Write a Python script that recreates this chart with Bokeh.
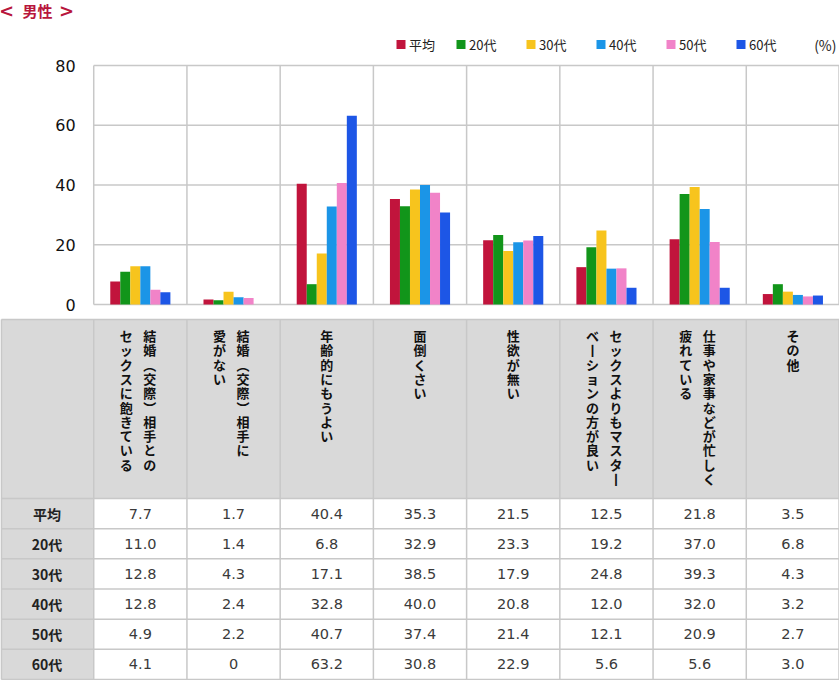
from bokeh.plotting import figure
from bokeh.models import FactorRange, Range1d, FixedTicker, LinearAxis
from bokeh.transform import dodge
from bokeh.embed import file_html
from bokeh.resources import INLINE
from bokeh.core.properties import value

# ---------------- data ----------------
title_text = "男性"
categories = [
    "結婚（交際）相手との\nセックスに飽きている",
    "結婚（交際）相手に\n愛がない",
    "年齢的にもうよい",
    "面倒くさい",
    "性欲が無い",
    "セックスよりもマスター\nベーションの方が良い",
    "仕事や家事などが忙しく\n疲れている",
    "その他",
]
series_names = ["平均", "20代", "30代", "40代", "50代", "60代"]
series_colors = ["#c1143c", "#12951a", "#f7c41d", "#1b95e7", "#f183c8", "#1d56e6"]
avg   = [7.7, 1.7, 40.4, 35.3, 21.5, 12.5, 21.8, 3.5]
age20 = [11.0, 1.4, 6.8, 32.9, 23.3, 19.2, 37.0, 6.8]
age30 = [12.8, 4.3, 17.1, 38.5, 17.9, 24.8, 39.3, 4.3]
age40 = [12.8, 2.4, 32.8, 40.0, 20.8, 12.0, 32.0, 3.2]
age50 = [4.9, 2.2, 40.7, 37.4, 21.4, 12.1, 20.9, 2.7]
age60 = [4.1, 0, 63.2, 30.8, 22.9, 5.6, 5.6, 3.0]
series_values = [avg, age20, age30, age40, age50, age60]
yticks = [0, 20, 40, 60, 80]
unit_label = "(%)"

# ---------------- layout constants (pixel space) ----------------
W, H = 839, 680
PLOT_TOP, PLOT_BOT = 65, 304          # pixel y of value 80 and value 0
TBL_TOP, HDR_BOT, TBL_BOT = 319, 498, 679
GRID = "#c8c8c8"
TGRAY = "#d9d9d9"
TITLE_RED = "#b8163c"
JP = value("Noto Sans CJK JP")

ymax = yticks[-1]
upp = ymax / (PLOT_BOT - PLOT_TOP)     # value units per pixel
y_end = ymax + PLOT_TOP * upp
y_start = -(H - PLOT_BOT) * upp

factors = [c.replace("\n", "") for c in categories]
row_head = "row_head"
ncat = len(factors)
NSLOT = ncat + 1


def sx(px):
    # pixel x -> synthetic categorical coordinate (layout positions only)
    return px * NSLOT / W


p = figure(width=W, height=H, x_range=FactorRange(factors=[row_head] + factors),
           y_range=Range1d(y_start, y_end), x_axis_type=None, y_axis_type=None,
           output_backend="svg", toolbar_location=None, min_border=0)
p.extra_y_ranges = {"px": Range1d(H, 0)}
p.outline_line_color = None
p.background_fill_color = "white"

# ---------------- header (title + legend) ----------------
for tx, tt, fnt, fs in [(6, "<", value("DejaVu Sans"), "18px"), (37, title_text, JP, "15px"),
                        (66, ">", value("DejaVu Sans"), "18px")]:
    p.text(x=[sx(tx)], y=[9.5], text=[tt], text_font=fnt, text_font_size=value(fs), text_font_style="bold",
           text_color=TITLE_RED, text_align="center", text_baseline="middle", y_range_name="px")

leg_left = [396, 456, 526, 596, 666, 736]
p.scatter(x=[sx(l + 4.5) for l in leg_left], y=[44] * 6, marker="square", size=9,
          fill_color=series_colors, line_color=None, y_range_name="px")
p.text(x=[sx(l + 12.5) for l in leg_left], y=[44] * 6, text=series_names, text_font=JP,
       text_font_size=value("13px"), text_color="#222222", text_align="left", text_baseline="middle",
       y_range_name="px")
p.text(x=[sx(836)], y=[44], text=[unit_label], text_font=JP, text_font_size=value("14px"),
       text_color="#222222", text_align="right", text_baseline="middle", y_range_name="px")

# ---------------- bar chart ----------------
p.segment(x0=[1] * len(yticks), x1=[NSLOT - 0.005] * len(yticks), y0=yticks, y1=yticks,
          line_color=GRID, line_width=1.5)
vb = [1 + k for k in range(ncat)] + [NSLOT - 0.005]
p.segment(x0=vb, x1=vb, y0=[0] * len(vb), y1=[ymax] * len(vb), line_color=GRID, line_width=1.5)

data = dict(cat=factors)
for k, vals in enumerate(series_values):
    data[f"s{k}"] = vals
bw = 0.1075
for k in range(len(series_names)):
    p.vbar(x=dodge("cat", (k - 2.5) * bw, range=p.x_range), top=f"s{k}", width=bw, bottom=0,
           source=data, fill_color=series_colors[k], line_color=None)

yaxis = LinearAxis(ticker=FixedTicker(ticks=yticks), fixed_location=1)
yaxis.axis_line_color = None
yaxis.major_tick_line_color = None
yaxis.minor_tick_line_color = None
yaxis.major_label_text_font = "DejaVu Sans"
yaxis.major_label_text_font_size = "16px"
yaxis.major_label_text_color = "#111111"
yaxis.major_label_standoff = 12
p.add_layout(yaxis, "left")

# ---------------- table ----------------
rh = (TBL_BOT - HDR_BOT) / len(series_names)
p.quad(left=[0], right=[NSLOT], top=[TBL_TOP], bottom=[HDR_BOT], fill_color=TGRAY,
       line_color=None, y_range_name="px")
p.quad(left=[0], right=[1], top=[HDR_BOT], bottom=[TBL_BOT], fill_color=TGRAY,
       line_color=None, y_range_name="px")

hy = [TBL_TOP, HDR_BOT] + [HDR_BOT + rh * (k + 1) for k in range(len(series_names))]
p.segment(x0=[0.01] * len(hy), x1=[NSLOT - 0.005] * len(hy), y0=hy, y1=hy,
          line_color=GRID, line_width=1.5, y_range_name="px")
vx = [0.01] + [1 + k for k in range(ncat)] + [NSLOT - 0.005]
p.segment(x0=vx, x1=vx, y0=[TBL_TOP] * len(vx), y1=[TBL_BOT] * len(vx),
          line_color=GRID, line_width=1.5, y_range_name="px")

# vertical (tategaki) header text, first line on the right
vert_map = {"（": "︵", "）": "︶", "ー": "丨"}
CHAR_TOP, CHAR_STEP = 335, 14.3
groups = {}
for j, cat in enumerate(categories):
    lines = cat.split("\n")
    offs = [0.0] if len(lines) == 1 else [0.102, -0.15]
    for li, line in enumerate(lines):
        g = groups.setdefault(offs[li], dict(x=[], y=[], t=[]))
        for ci, ch in enumerate(line):
            g["x"].append(factors[j])
            g["y"].append(CHAR_TOP + CHAR_STEP * ci)
            g["t"].append(vert_map.get(ch, ch))
for off, g in groups.items():
    p.text(x=dodge("x", off, range=p.x_range), y="y", text="t", source=g, text_font=JP,
           text_font_size=value("13px"), text_font_style="bold", text_color="#111111",
           text_align="center", text_baseline="middle", y_range_name="px")

# row labels
p.text(x=[row_head] * len(series_names), y=[HDR_BOT + rh * (i + 0.5) for i in range(len(series_names))],
       text=series_names, text_font=JP, text_font_size=value("14px"), text_font_style="bold",
       text_color="#222222", text_align="center", text_baseline="middle", y_range_name="px")

# values
vxs, vys, vts = [], [], []
for i, vals in enumerate(series_values):
    for j, v in enumerate(vals):
        vxs.append(factors[j])
        vys.append(HDR_BOT + rh * (i + 0.5))
        vts.append("0" if v == 0 else f"{v:.1f}")
p.text(x=vxs, y=vys, text=vts, text_font=value("DejaVu Sans"), text_font_size=value("14.5px"),
       text_color="#3a3a3a", text_align="center", text_baseline="middle", y_range_name="px")

open("out.html", "w").write(file_html(p, INLINE))
